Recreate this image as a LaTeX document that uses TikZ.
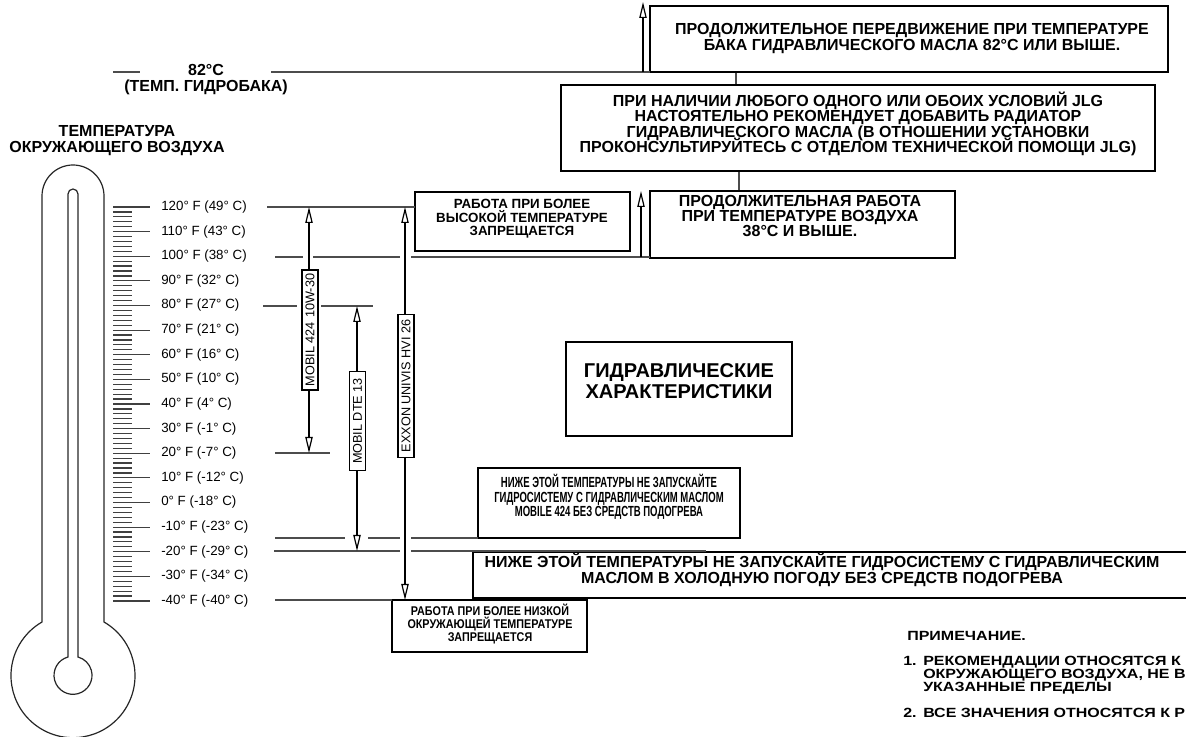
\documentclass[tikz,border=0pt]{standalone}
\usepackage{fontspec}
\setmainfont{Liberation Sans}
\newfontfamily\narrowsans[FakeStretch=0.65]{Liberation Sans}
\newfontfamily\semisans[FakeStretch=0.85]{Liberation Sans}
\newfontfamily\widesans[FakeStretch=1.2]{Liberation Sans}
\AtBeginDocument{\lineskiplimit=-100pt\lineskip=0pt}
\usetikzlibrary{arrows.meta,fit}
\begin{document}
\begin{tikzpicture}[x=0.75pt,y=-0.75pt,
  thermo/.style={line width=0.9pt, black!85},
  tick/.style={line width=0.9pt, black!75},
  gl/.style={line width=0.9pt, black!70},
  bx/.style={draw, line width=1.8pt, inner sep=0pt},
  bt/.style={font=\bfseries\fontsize{12}{11.5}\selectfont, align=center, inner sep=0pt},
  st/.style={font=\bfseries\fontsize{10}{10}\selectfont, align=center, inner sep=0pt},
  ht/.style={font=\bfseries\fontsize{12}{12}\selectfont, align=center, inner sep=0pt},
  nt/.style={font=\widesans\bfseries\fontsize{10}{9.75}\selectfont, align=left, inner sep=0pt, anchor=north west},
  lab/.style={font=\fontsize{10}{11}\selectfont, anchor=west, inner sep=0pt},
  oil/.style={draw, line width=0.8pt, fill=white, rotate=90, font=\fontsize{9.5}{11}\selectfont, inner sep=1pt, minimum height=12pt},
  arr/.style={line width=0.9pt, -{Triangle[open, length=12pt, width=5.5pt]}},
  darr/.style={line width=0.9pt, {Triangle[open, length=12pt, width=5.5pt]}-{Triangle[open, length=12pt, width=5.5pt]}},
]
\useasboundingbox (0,0) rectangle (1186,737);

% thermometer
\draw[thermo] (42,622) -- (42,196) arc[start angle=180, end angle=360, radius=31] -- (104,622)
  arc[start angle=-60, end angle=240, radius=62] -- cycle;
\draw[thermo] (78,657) -- (78,194) arc[start angle=0, end angle=-180, radius=5] -- (68,657)
  arc[start angle=254.7, end angle=-74.7, radius=19] -- cycle;

% scale
\foreach \i in {0,...,80}{\draw[tick] (113,{601-\i*4.925}) -- (132,{601-\i*4.925});}
\foreach \i in {0,...,16}{\draw[tick] (113,{601-\i*24.625}) -- (150,{601-\i*24.625});}
\foreach \t/\c [count=\k from 0] in {120/49,110/43,100/38,90/32,80/27,70/21,60/16,50/10,40/4,30/-1,20/-7,10/-12,0/-18,-10/-23,-20/-29,-30/-34,-40/-40}
  {\node[lab] (lab\k) at (161,{207+\k*24.625}) {\t° F (\c° C)};}

\node[ht] (amb) at (117,141) {ТЕМПЕРАТУРА\\ОКРУЖАЮЩЕГО ВОЗДУХА};
\node[ht] (t82) at (206,80) {82°C\\(ТЕМП. ГИДРОБАКА)};

% boxes
\node[bx, fit={(650,6) (1168,72)}] (b1) {};
\node[bt] (b1t) at (912,38.5) {ПРОДОЛЖИТЕЛЬНОЕ ПЕРЕДВИЖЕНИЕ ПРИ ТЕМПЕРАТУРЕ\\БАКА ГИДРАВЛИЧЕСКОГО МАСЛА 82°C ИЛИ ВЫШЕ.};
\node[bx, fit={(561,85) (1155,171)}] (b2) {};
\node[bt] (b2t) at (858,124) {ПРИ НАЛИЧИИ ЛЮБОГО ОДНОГО ИЛИ ОБОИХ УСЛОВИЙ JLG\\НАСТОЯТЕЛЬНО РЕКОМЕНДУЕТ ДОБАВИТЬ РАДИАТОР\\ГИДРАВЛИЧЕСКОГО МАСЛА (В ОТНОШЕНИИ УСТАНОВКИ\\ПРОКОНСУЛЬТИРУЙТЕСЬ С ОТДЕЛОМ ТЕХНИЧЕСКОЙ ПОМОЩИ JLG)};
\node[bx, fit={(650,191) (955,258)}] (b3) {};
\node[bt] (b3t) at (800,216) {ПРОДОЛЖИТЕЛЬНАЯ РАБОТА\\ПРИ ТЕМПЕРАТУРЕ ВОЗДУХА\\38°C И ВЫШЕ.};
\node[bx, fit={(415,192) (630,251)}] (bh) {};
\node[st] (bht) at (522,219) {РАБОТА ПРИ БОЛЕЕ\\ВЫСОКОЙ ТЕМПЕРАТУРЕ\\ЗАПРЕЩАЕТСЯ};
\node[bx, fit={(566,342) (792,436)}] (bt) {};
\node[font=\bfseries\fontsize{15}{16}\selectfont, align=center, inner sep=0pt] (btt) at (679,381) {ГИДРАВЛИЧЕСКИЕ\\ХАРАКТЕРИСТИКИ};
\node[bx, fit={(478,468) (740,538)}] (b4) {};
\node[font=\narrowsans\bfseries\fontsize{11}{11}\selectfont, align=center, inner sep=0pt] (b4t) at (609,497) {НИЖЕ ЭТОЙ ТЕМПЕРАТУРЫ НЕ ЗАПУСКАЙТЕ\\ГИДРОСИСТЕМУ С ГИДРАВЛИЧЕСКИМ МАСЛОМ\\MOBILE 424 БЕЗ СРЕДСТВ ПОДОГРЕВА};
\node[bx, fit={(473,552) (1200,598)}] (b5) {};
\node[bt] (b5t) at (822,570) {НИЖЕ ЭТОЙ ТЕМПЕРАТУРЫ НЕ ЗАПУСКАЙТЕ ГИДРОСИСТЕМУ С ГИДРАВЛИЧЕСКИМ\\МАСЛОМ В ХОЛОДНУЮ ПОГОДУ БЕЗ СРЕДСТВ ПОДОГРЕВА};
\node[bx, fit={(392,600) (587,652)}] (b6) {};
\node[font=\semisans\bfseries\fontsize{9.5}{9.75}\selectfont, align=center, inner sep=0pt] (b6t) at (490,624) {РАБОТА ПРИ БОЛЕЕ НИЗКОЙ\\ОКРУЖАЮЩЕЙ ТЕМПЕРАТУРЕ\\ЗАПРЕЩАЕТСЯ};

% connectors between boxes
\draw[gl] (736,0 |- b1.south) -- (736,0 |- b2.north);
\draw[gl] (739,0 |- b2.south) -- (739,0 |- b3.north);

% temperature lines
\draw[gl] (113,72) -- (140,72);
\draw[gl] (271,72) -- (650,72);
\draw[gl] (267,207) -- (415,207);
\draw[gl] (275,257) -- (303,257) (313,257) -- (400,257) (411,257) -- (650,257);
\draw[gl] (263,306) -- (297,306) (321,306) -- (373,306);
\draw[gl] (275,453) -- (330,453);
\draw[gl] (275,538) -- (345,538) (368,538) -- (400,538) (411,538) -- (478,538);
\draw[gl] (274,551) -- (400,551) (411,551) -- (706,551);
\draw[gl] (275,600) -- (392,600);

% arrows
\coordinate (up82) at (643,2);
\coordinate (base82) at (643,72);
\draw[arr] (base82) -- (up82);
\coordinate (base100) at (641,257);
\coordinate (up100) at (641,191);
\draw[arr] (base100) -- (up100);

\coordinate (m1a) at (309,453); \coordinate (m1b) at (309,207);
\draw[darr] (m1a) -- (m1b);
\node[oil, minimum width=90pt] (o1) at (310,330) {MOBIL 424\,\,10W-30};
\coordinate (m2a) at (357,551); \coordinate (m2b) at (357,306);
\draw[darr] (m2a) -- (m2b);
\node[oil, minimum width=74pt] (o2) at (357.5,421) {MOBIL DTE 13};
\coordinate (m3a) at (405,600); \coordinate (m3b) at (405,207);
\draw[darr] (m3a) -- (m3b);
\node[oil, minimum width=107pt] (o3) at (406,386) {EXXON UNIVIS HVI 26};

% notes
\node[nt] (n0) at (907,631) {ПРИМЕЧАНИЕ.};
\node[nt] (n1) at (903,656) {1.};
\node[nt] (n1t) at (923,656) {РЕКОМЕНДАЦИИ ОТНОСЯТСЯ К\\ОКРУЖАЮЩЕГО ВОЗДУХА, НЕ В\\УКАЗАННЫЕ ПРЕДЕЛЫ};
\node[nt] (n2) at (903,708) {2.};
\node[nt] (n2t) at (923,708) {ВСЕ ЗНАЧЕНИЯ ОТНОСЯТСЯ К Р};
\end{tikzpicture}
\end{document}
